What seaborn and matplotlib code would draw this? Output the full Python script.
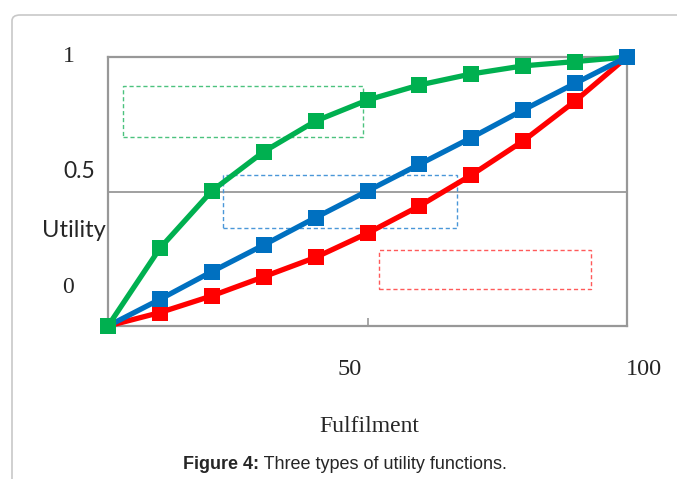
import matplotlib
matplotlib.use("Agg")
import matplotlib.pyplot as plt
import seaborn as sns
import pandas as pd
from matplotlib.patches import FancyBboxPatch, Rectangle

# ---- data ----
fulfilment = [0, 10, 20, 30, 40, 50, 60, 70, 80, 90, 100]
concave = [0.0, 0.289, 0.502, 0.648, 0.762, 0.840, 0.896, 0.937, 0.967, 0.983, 1.0]
linear = [0.0, 0.099, 0.202, 0.301, 0.403, 0.502, 0.601, 0.700, 0.803, 0.902, 1.0]
convex = [0.0, 0.050, 0.112, 0.183, 0.255, 0.345, 0.446, 0.561, 0.688, 0.836, 1.0]
series_names = ["convex", "concave", "linear"]
series_colors = {"convex": "#FF0000", "concave": "#00B050", "linear": "#0070C0"}
ytick_labels = ["1", "0.5", "0"]
xtick_labels = ["50", "100"]
x_label = "Fulfilment"
y_label = "Utility"
caption_bold = "Figure 4:"
caption_rest = " Three types of utility functions."

df = pd.DataFrame({
    "Fulfilment": fulfilment * 3,
    "Utility": convex + concave + linear,
    "type": ["convex"] * 11 + ["concave"] * 11 + ["linear"] * 11,
})

sns.set_theme(style="white")
W, H = 677, 479
fig = plt.figure(figsize=(W / 100, H / 100), dpi=100)

def fx(px):
    return px / W

def fy(py):
    return 1 - py / H

# outer rounded frame
frame = FancyBboxPatch((fx(12), fy(560)), fx(800), fy(15) - fy(560),
                       boxstyle="round,pad=0,rounding_size=0.012",
                       transform=fig.transFigure, fill=False,
                       edgecolor="#C8C8C8", linewidth=1.2)
fig.patches.append(frame)

ax = fig.add_axes([fx(108), fy(326), fx(627) - fx(108), fy(57) - fy(326)])

ax.axhline(0.5, color="#989898", linewidth=1.3, zorder=1)

sns.lineplot(data=df, x="Fulfilment", y="Utility", hue="type",
             hue_order=series_names, palette=series_colors,
             marker="s", markersize=11.5, markeredgewidth=0,
             linewidth=3.8, legend=False, ax=ax, zorder=3, clip_on=False)
# green first point drawn on top (as in reference)
ax.plot([fulfilment[0]], [concave[0]], linestyle="none", marker="s",
        markersize=11.5, markeredgewidth=0, color=series_colors["concave"],
        zorder=6, clip_on=False)

ax.set_xlim(0, 100)
ax.set_ylim(0, 1)
for s in ax.spines.values():
    s.set_color("#989898")
    s.set_linewidth(1.6)
ax.set_xticks([50])
ax.set_xticklabels([])
ax.set_yticks([])
ax.tick_params(axis="x", direction="in", length=6, width=1.2, color="#989898", bottom=True)
ax.set_xlabel("")
ax.set_ylabel("")

# dashed boxes (legend placeholders)
boxes = [
    ((2.9, 0.703), 46.2, 0.19, "#4CC27E"),
    ((22.2, 0.363), 45.1, 0.198, "#4A97D8"),
    ((52.2, 0.136), 40.9, 0.147, "#FF5A5A"),
]
for (x0, y0), w, h, c in boxes:
    ax.add_patch(Rectangle((x0, y0), w, h, fill=False, edgecolor=c,
                           linestyle=(0, (3, 2)), linewidth=1.0, zorder=2))

serif = "Liberation Serif"
sans = "Lato"
fig.text(fx(69), fy(62), ytick_labels[0], family=serif, fontsize=17, ha="center", va="baseline")
fig.text(fx(79), fy(178), ytick_labels[1], family=sans, fontsize=16.5, ha="center", va="baseline")
fig.text(fx(74), fy(237), y_label, family=sans, fontsize=17, ha="center", va="baseline")
fig.text(fx(68), fy(293), ytick_labels[2], family=serif, fontsize=17, ha="center", va="baseline")
fig.text(fx(350), fy(375), xtick_labels[0], family=serif, fontsize=17.5, ha="center", va="baseline")
fig.text(fx(644), fy(375), xtick_labels[1], family=serif, fontsize=17.5, ha="center", va="baseline")
fig.text(fx(369), fy(432), x_label, family=serif, fontsize=17, ha="center", va="baseline")

# caption: bold part followed by regular part
fig.canvas.draw()
r = fig.canvas.get_renderer()
t1 = fig.text(fx(183), fy(469), caption_bold, family="Liberation Sans", fontsize=13,
              fontweight="bold", ha="left", va="baseline")
bb = t1.get_window_extent(renderer=r)
fig.text(bb.x1 / W, fy(469), caption_rest, family="Liberation Sans", fontsize=13,
         ha="left", va="baseline")

fig.savefig("out.png", dpi=100)
